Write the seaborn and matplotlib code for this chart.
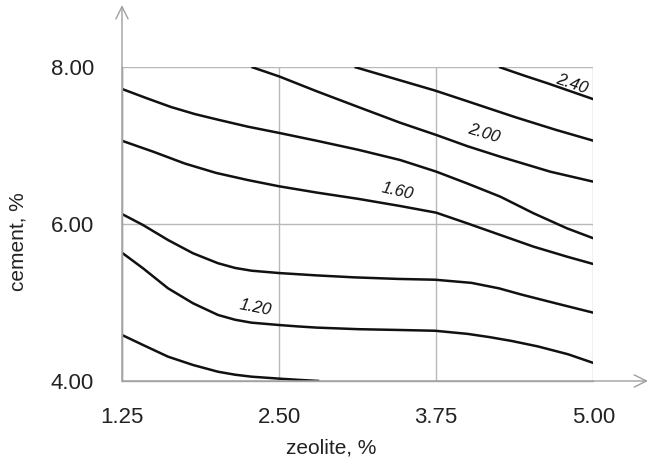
import numpy as np
import pandas as pd
import matplotlib
matplotlib.use("Agg")
import matplotlib.pyplot as plt
import seaborn as sns

# contour lines: zeolite (x) vs cement (y) for each level
levels = [1.00, 1.20, 1.40, 1.60, 1.80, 2.00, 2.20, 2.40]

c100_zeolite = [1.25, 1.417, 1.616, 1.815, 2.014, 2.15, 2.28, 2.50, 2.65, 2.82]
c100_cement = [4.586, 4.459, 4.31, 4.204, 4.118, 4.08, 4.055, 4.03, 4.015, 4.00]

c120_zeolite = [1.25, 1.417, 1.616, 1.815, 2.014, 2.15, 2.28, 2.50, 2.65, 2.80, 3.13, 3.45, 3.74,
                4.00, 4.17, 4.35, 4.56, 4.80, 5.00]
c120_cement = [5.634, 5.436, 5.181, 4.99, 4.841, 4.78, 4.743, 4.713, 4.695, 4.68, 4.66, 4.65, 4.64,
               4.60, 4.56, 4.51, 4.44, 4.34, 4.23]

c140_zeolite = [1.25, 1.417, 1.616, 1.815, 2.014, 2.15, 2.28, 2.50, 2.65, 2.80, 3.10, 3.45, 3.74,
                4.03, 4.25, 4.43, 4.70, 5.00]
c140_cement = [6.127, 5.987, 5.796, 5.627, 5.50, 5.44, 5.405, 5.375, 5.36, 5.345, 5.32, 5.30, 5.29,
               5.25, 5.18, 5.10, 4.99, 4.87]

c160_zeolite = [1.25, 1.50, 1.75, 2.00, 2.25, 2.50, 2.80, 3.13, 3.463, 3.75, 3.994, 4.26,
                4.525, 4.79, 5.00]
c160_cement = [7.06, 6.92, 6.77, 6.65, 6.56, 6.48, 6.40, 6.32, 6.229, 6.144, 6.01, 5.86,
               5.711, 5.584, 5.49]

c180_zeolite = [1.25, 1.45, 1.64, 1.83, 2.01, 2.25, 2.50, 2.80, 3.13, 3.463, 3.75, 3.994,
                4.26, 4.525, 4.79, 5.00]
c180_cement = [7.72, 7.60, 7.49, 7.40, 7.33, 7.24, 7.16, 7.06, 6.945, 6.815, 6.667, 6.518,
               6.348, 6.136, 5.945, 5.818]

c200_zeolite = [2.28, 2.50, 2.80, 3.13, 3.463, 3.75, 4.00, 4.26, 4.658, 5.00]
c200_cement = [8.00, 7.88, 7.69, 7.49, 7.29, 7.134, 6.99, 6.857, 6.666, 6.539]

c220_zeolite = [3.10, 3.42, 3.74, 3.967, 4.38, 4.70, 5.00]
c220_cement = [8.00, 7.85, 7.70, 7.58, 7.36, 7.20, 7.061]

c240_zeolite = [4.25, 4.45, 4.64, 4.82, 5.00]
c240_cement = [8.00, 7.89, 7.79, 7.69, 7.59]

# labelled levels and where the labels sit
label_text = ["1.20", "1.60", "2.00", "2.40"]
label_zeolite = [2.31, 3.44, 4.13, 4.83]
label_cement = [4.94, 6.42, 7.155, 7.78]
label_angle = [-11, -13, -17, -19]

x_ticks = [1.25, 2.50, 3.75, 5.00]
y_ticks = [4.00, 6.00, 8.00]

zeolite_lines = [c100_zeolite, c120_zeolite, c140_zeolite, c160_zeolite,
                 c180_zeolite, c200_zeolite, c220_zeolite, c240_zeolite]
cement_lines = [c100_cement, c120_cement, c140_cement, c160_cement,
                c180_cement, c200_cement, c220_cement, c240_cement]

frames = []
for lev, xs, ys in zip(levels, zeolite_lines, cement_lines):
    frames.append(pd.DataFrame({"zeolite": xs, "cement": ys, "level": lev}))
df = pd.concat(frames, ignore_index=True)

sns.set_theme(style="white")
plt.rcParams['font.family'] = ['Liberation Sans', 'DejaVu Sans']

fig = plt.figure(figsize=(6.52, 4.71), dpi=100)
ax = fig.add_axes([0.1871, 0.1911, 0.7229, 0.6667])

sns.lineplot(data=df, x="zeolite", y="cement", units="level", estimator=None,
             sort=False, color="#111111", linewidth=1.8, legend=False, ax=ax,
             solid_joinstyle="round", solid_capstyle="butt")

for txt, lx, ly, ang in zip(label_text, label_zeolite, label_cement, label_angle):
    ax.text(lx, ly, txt, fontsize=12, style="italic", color="#111111",
            rotation=ang, rotation_mode="anchor", ha="center", va="center")

ax.set_xlim(1.25, 5.0)
ax.set_ylim(4.0, 8.0)
ax.set_xticks(x_ticks)
ax.set_yticks(y_ticks)
ax.set_xticklabels([f"{v:.2f}" for v in x_ticks])
ax.set_yticklabels([f"{v:.2f}" for v in y_ticks])
ax.tick_params(axis="both", length=0, labelsize=16, colors="#222222")
ax.tick_params(axis="x", pad=19)
ax.tick_params(axis="y", pad=20)

ax.grid(True, color="#b8b8b8", linewidth=1.0)
ax.set_axisbelow(True)
for s in ["top", "right"]:
    ax.spines[s].set_visible(False)
for s in ["left", "bottom"]:
    ax.spines[s].set_color("#a8a8a8")
    ax.spines[s].set_linewidth(1.0)

# axis arrows
ax.annotate("", xy=(0, 1.197), xytext=(0, 0), xycoords="axes fraction",
            arrowprops=dict(arrowstyle="->", color="#a0a0a0", lw=1.0,
                            mutation_scale=22, shrinkA=0, shrinkB=0))
ax.annotate("", xy=(1.116, 0), xytext=(0, 0), xycoords="axes fraction",
            arrowprops=dict(arrowstyle="->", color="#a0a0a0", lw=1.0,
                            mutation_scale=22, shrinkA=0, shrinkB=0))

ax.set_xlabel("zeolite, %", fontsize=15, color="#222222", va="center")
ax.set_ylabel("cement, %", fontsize=15, color="#222222", va="center")
ax.xaxis.set_label_coords(0.4435, -0.213)
ax.yaxis.set_label_coords(-0.221, 0.444)

fig.savefig("out.png", dpi=100)
